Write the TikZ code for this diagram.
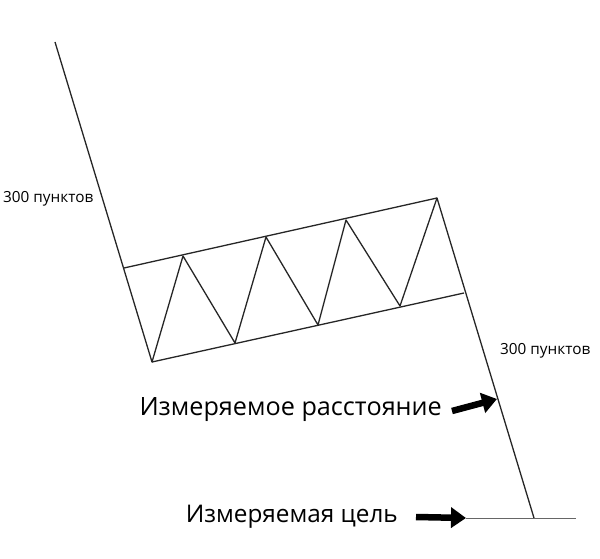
\documentclass[tikz,border=0pt]{standalone}
\usepackage{fontspec}
\setmainfont{Open Sans}
\usetikzlibrary{arrows.meta}

\tikzset{
  trend/.style={line width=1.3pt, line join=round, black!85},
  pts/.style={inner sep=0pt, anchor=west, font=\fontsize{15.3}{18}\selectfont},
  caption/.style={inner sep=0pt, font=\fontsize{25.2}{30}\selectfont},
  fat/.style={line width=6.5pt, -{Triangle[length=15pt,width=20pt]}}
}

\begin{document}
\begin{tikzpicture} [x=1pt, y=-1pt]
  \useasboundingbox (0,0) rectangle (600,559);
  \path  (55,42)   coordinate(top)
         (124,268) coordinate(U0)
         (152,362) coordinate(L0)
         (183,256) coordinate(U1)
         (235,343) coordinate(L1)
         (266,237) coordinate(U2)
         (318,325) coordinate(L2)
         (346,220) coordinate(U3)
         (400,306) coordinate(L3)
         (437,198) coordinate(U4)
         (464,293) coordinate(L4)
         (534,518) coordinate(bottom)
         (466,518) coordinate(goalL)
         (576,518) coordinate(goalR)
         (497,399) coordinate(mid);
  \path  (3,199)   node[pts](ptsL) {300 пунктов}
         (500,351) node[pts](ptsR) {300 пунктов}
         (442,410) node[caption, anchor=east](dist) {Измеряемое расстояние}
         (398,517) node[caption, anchor=east, font=\fontsize{24.3}{29}\selectfont](goal) {Измеряемая цель};
  \draw [trend] (top) -- (L0) -- (U1) -- (L1) -- (U2) -- (L2) -- (U3) -- (L3) -- (U4) -- (bottom);
  \draw [trend] (U0) -- (U4);
  \draw [trend] (L0) -- (L4);
  \draw [line width=1pt, black!60] (goalL) -- (goalR);
  \draw [fat] ([xshift=10pt, yshift=-1pt]dist.east) -- (mid);
  \draw [fat] ([xshift=18pt]goal.east) -- (goalL);
\end{tikzpicture}
\end{document}
